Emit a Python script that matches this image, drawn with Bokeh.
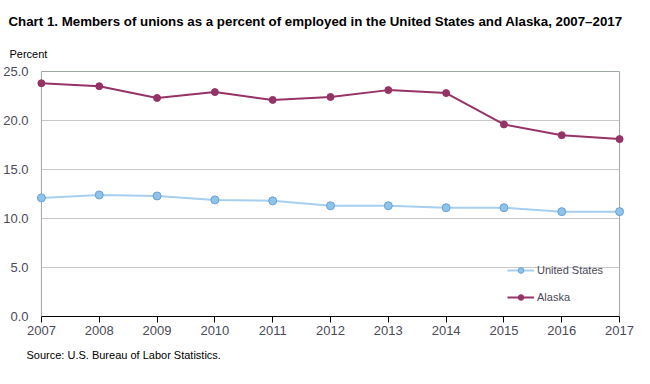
from bokeh.plotting import figure
from bokeh.models import (Range1d, FixedTicker, NumeralTickFormatter, Title,
                          Legend, LegendItem)
from bokeh.embed import file_html
from bokeh.resources import INLINE

years = [2007, 2008, 2009, 2010, 2011, 2012, 2013, 2014, 2015, 2016, 2017]
us = [12.1, 12.4, 12.3, 11.9, 11.8, 11.3, 11.3, 11.1, 11.1, 10.7, 10.7]
alaska = [23.8, 23.5, 22.3, 22.9, 22.1, 22.4, 23.1, 22.8, 19.6, 18.5, 18.1]
y_ticks = [0, 5, 10, 15, 20, 25]
y_max = 25

title_text = "Chart 1. Members of unions as a percent of employed in the United  States and Alaska, 2007\u20132017"
ylabel_text = "Percent"
source_text = "Source: U.S. Bureau  of Labor Statistics."

SANS = "Liberation Sans, Arial, sans-serif"

px_per_year = 58.6
pad = 6 / px_per_year
frame_h = 246
y_end = y_max * frame_h / 245.0

p = figure(width=634, height=376, output_backend="svg", toolbar_location=None,
           x_range=Range1d(years[0] - pad, years[-1] + pad),
           y_range=Range1d(0, y_end),
           min_border_left=27, min_border_right=9, min_border_top=70,
           min_border_bottom=60, outline_line_color=None,
           background_fill_color="white", border_fill_color="white")
p.title = None

# axes
xa = p.xaxis[0]
xa.ticker = FixedTicker(ticks=years)
xa.bounds = (years[0], years[-1])
xa.axis_line_color = "black"
xa.major_tick_line_color = "black"
xa.major_tick_out = 6
xa.major_tick_in = 0
xa.minor_tick_line_color = None
xa.major_label_standoff = 3
xa.major_label_text_font = SANS
xa.major_label_text_font_size = "13px"
xa.major_label_text_color = "#4a4a5a"

ya = p.yaxis[0]
ya.ticker = FixedTicker(ticks=y_ticks)
ya.formatter = NumeralTickFormatter(format="0.0")
ya.axis_line_color = None
ya.major_tick_line_color = None
ya.minor_tick_line_color = None
ya.major_label_standoff = 1
ya.major_label_text_font = SANS
ya.major_label_text_font_size = "13px"
ya.major_label_text_color = "#4a4a5a"

p.xgrid.grid_line_color = None
p.ygrid.grid_line_color = "#c8c8c8"
p.ygrid.cross_bounds = (years[0], years[-1])
p.ygrid.ticker = FixedTicker(ticks=y_ticks[1:-1])

# frame lines (left, top, right)
frame_col = "#9fa89f"
p.segment(x0=[years[0], years[0], years[-1]], y0=[0, y_max, 0],
          x1=[years[0], years[-1], years[-1]], y1=[y_max, y_max, y_max],
          line_color=frame_col, line_width=1)

# series
us_line = p.line(years, us, line_color="#a6cff0", line_width=2)
us_pts = p.scatter(years, us, size=8, fill_color="#8ec4ea",
                   line_color="#6a9fd2", line_width=1)
ak_line = p.line(years, alaska, line_color="#963366", line_width=2)
ak_pts = p.scatter(years, alaska, size=7, fill_color="#963366",
                   line_color="#963366", line_width=1)

legend = Legend(items=[LegendItem(label="United States", renderers=[us_line, us_pts]),
                       LegendItem(label="Alaska", renderers=[ak_line, ak_pts])],
                location=(472, 12), orientation="vertical",
                background_fill_alpha=0, border_line_color=None,
                padding=0, margin=0, spacing=13, glyph_width=27,
                glyph_height=14, label_height=14, label_standoff=3,
                label_text_font=SANS, label_text_font_size="11px",
                label_text_color="#4a4a5a")
p.add_layout(legend, "center")

# titles
p.add_layout(Title(text=ylabel_text, align="left", offset=-26,
                   text_font=SANS, text_font_size="11px",
                   text_font_style="normal", text_color="black", standoff=21), "above")
p.add_layout(Title(text=title_text, align="left", offset=-27,
                   text_font=SANS, text_font_size="13.3px",
                   text_font_style="bold", text_color="black", standoff=13), "above")
p.add_layout(Title(text=source_text, align="left", offset=-9,
                   text_font=SANS, text_font_size="11px",
                   text_font_style="normal", text_color="black", standoff=18), "below")

open("out.html", "w").write(file_html(p, INLINE))
